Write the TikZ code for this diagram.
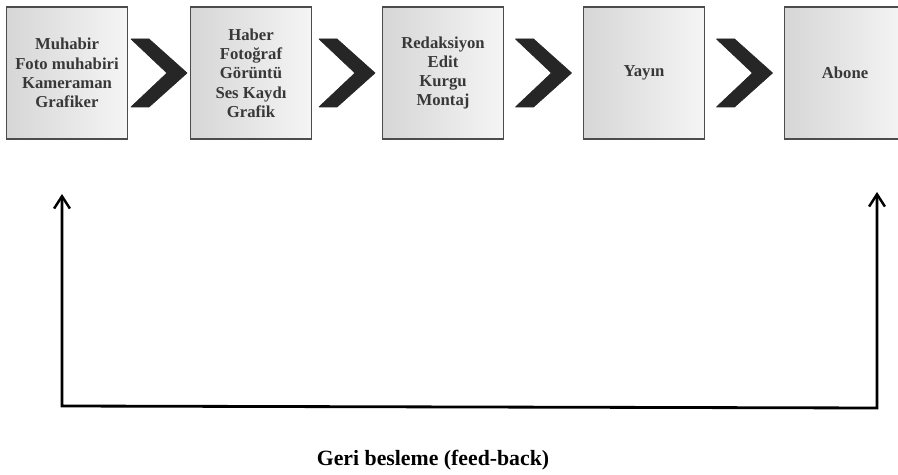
\documentclass[tikz,border=0pt]{standalone}
\usepackage{fontspec}
\setmainfont{Liberation Serif}
\usetikzlibrary{calc,arrows.meta}

\tikzset{
  stage/.style={draw=black!70, line width=0.9pt, left color=black!16, right color=black!4,
    minimum width=2.42cm, minimum height=2.64cm, align=center,
    font=\bfseries\fontsize{9.5}{11}\selectfont, text=black!78},
  chevron/.style={fill=black!85, draw=black!85, line join=round},
  feedback/.style={line width=1.6pt, {Straight Barb[length=7pt,width=9pt,line width=1.4pt]}-{Straight Barb[length=7pt,width=9pt,line width=1.4pt]}}
}

\begin{document}
\begin{tikzpicture}[x=0.02cm, y=-0.02cm]
  \useasboundingbox (0,0) rectangle (898,475);
  %
  \foreach \name/\xpos/\txt in {b1/67/{Muhabir\\Foto muhabiri\\Kameraman\\Grafiker},
      b2/251/{Haber\\Fotoğraf\\Görüntü\\Ses Kaydı\\Grafik},
      b3/443/{Redaksiyon\\Edit\\Kurgu\\Montaj},
      b4/644/{Yayın}, b5/845/{Abone}} {
    \node[stage] (\name) at (\xpos,73) {\txt};
  }
  %
  \foreach \a/\b in {b1/b2,b2/b3,b3/b4,b4/b5} {
    \coordinate (m) at ($(\a.east)!0.5!(\b.west)$);
    \filldraw[chevron] ($(m)+(-28,-34)$) -- ++(18,0) -- ++(38,34) -- ++(-38,34)
      -- ++(-18,0) -- ++(36,-34) -- cycle;
  }
  %
  \coordinate (fbtopL) at (62,194);
  \coordinate (fbL) at (62,406);
  \coordinate (fbR) at (877,408);
  \coordinate (fbtopR) at (877,192);
  \draw[feedback] (fbtopL) -- (fbL) -- (fbR) -- (fbtopR);
  \node[font=\bfseries\fontsize{12.4}{14}\selectfont] (fbtext) at (433,460) {Geri besleme (feed-back)};
\end{tikzpicture}
\end{document}
